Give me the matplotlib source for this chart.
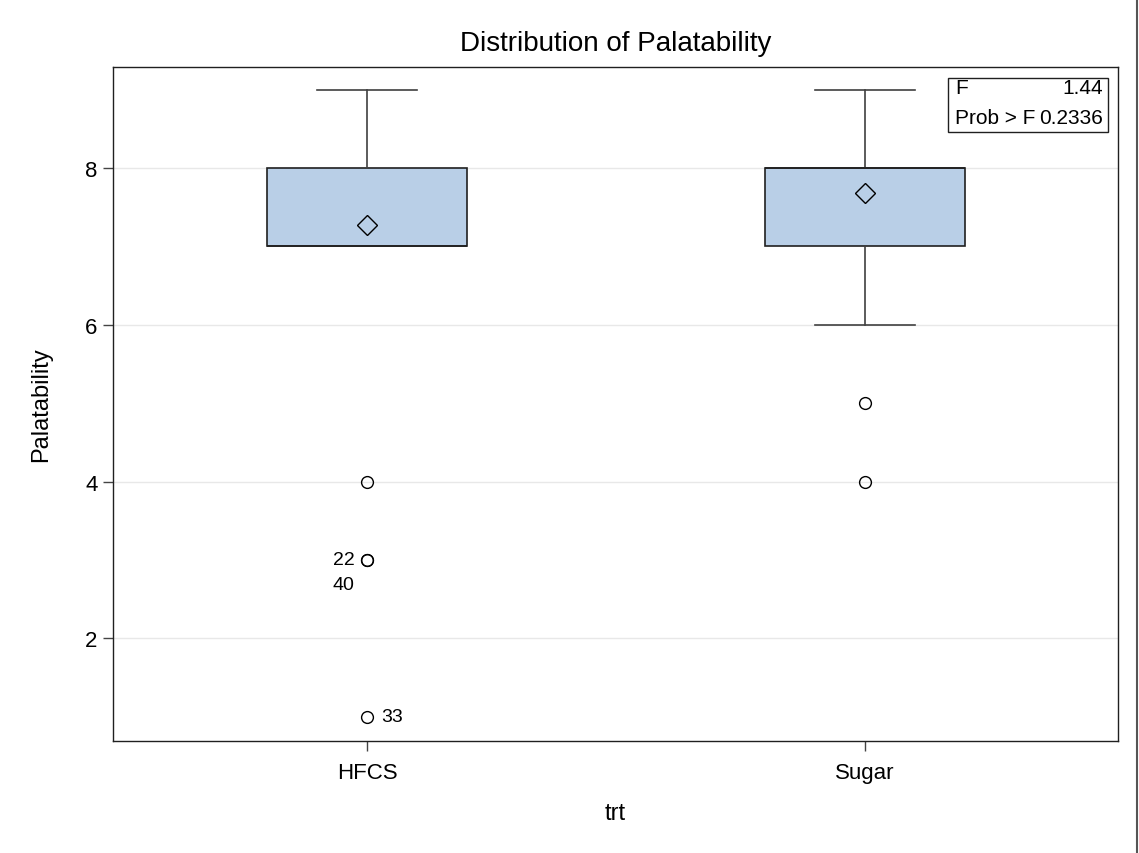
import matplotlib.pyplot as plt
from matplotlib.lines import Line2D
from matplotlib.patches import Rectangle

plt.rcParams['font.family'] = ['Liberation Sans', 'DejaVu Sans']

groups = ["HFCS", "Sugar"]
q1 = [7, 7]
medians = [7, 8]
q3 = [8, 8]
whisker_lo = [7, 6]
whisker_hi = [9, 9]
means = [7.28, 7.68]
outliers = [[4, 3, 3, 1], [5, 4]]
# labelled outliers: (group, value, ids, side)
outlier_ids = [(0, 3, ["22", "40"], "left"), (0, 1, ["33"], "right")]
f_value = 1.44
p_value = 0.2336

fig = plt.figure(figsize=(11.39, 8.54), dpi=100)
ax = fig.add_axes([0.0992, 0.1311, 0.8824, 0.7893])

stats = []
for i, g in enumerate(groups):
    stats.append(dict(label=g, q1=q1[i], med=medians[i], q3=q3[i],
                      whislo=whisker_lo[i], whishi=whisker_hi[i],
                      mean=means[i], fliers=outliers[i]))

ax.bxp(stats, positions=[0, 1], widths=0.4, patch_artist=True,
       showmeans=True, showfliers=True,
       boxprops=dict(facecolor="#b9cfe7", edgecolor="#202020", linewidth=1.2),
       medianprops=dict(color="#202020", linewidth=1.2),
       whiskerprops=dict(color="#404040", linewidth=1.2),
       capprops=dict(color="#404040", linewidth=1.2),
       capwidths=0.2,
       meanprops=dict(marker="D", markerfacecolor="none", markeredgecolor="black",
                      markersize=10, markeredgewidth=1.0),
       flierprops=dict(marker="o", markerfacecolor="none", markeredgecolor="black",
                       markersize=8.5, markeredgewidth=1.0),
       zorder=3)

for g, v, ids, side in outlier_ids:
    for k, txt in enumerate(ids):
        if side == "left":
            ax.annotate(txt, (g, v), xytext=(-9, -18 * k), textcoords="offset points",
                        ha="right", va="center", fontsize=14)
        else:
            ax.annotate(txt, (g, v), xytext=(10, -18 * k), textcoords="offset points",
                        ha="left", va="center", fontsize=14)

ax.set_xlim(-0.51, 1.508)
ax.set_ylim(0.69, 9.29)
ax.set_yticks([2, 4, 6, 8])
ax.set_xticks([0, 1])
ax.set_xticklabels(groups)
ax.yaxis.grid(True, color="#e8e8e8", linewidth=1)
ax.set_axisbelow(True)
ax.tick_params(labelsize=16, length=7, width=1, color="#444444", pad=8)
ax.tick_params(axis="y", pad=4)
for s in ax.spines.values():
    s.set_linewidth(1.0)
    s.set_color("#202020")

ax.set_title("Distribution of Palatability", fontsize=20, pad=12)
ax.set_xlabel("trt", fontsize=17, labelpad=14)
ax.set_ylabel("Palatability", fontsize=17, labelpad=24)

# F statistic inset
ax.add_patch(Rectangle((0.831, 0.903), 0.159, 0.081, transform=ax.transAxes,
                       facecolor="white", edgecolor="#202020", linewidth=1.0, zorder=5))
ax.text(0.838, 0.970, "F", transform=ax.transAxes, ha="left", va="center",
        fontsize=15, zorder=6)
ax.text(0.985, 0.970, "%.2f" % f_value, transform=ax.transAxes, ha="right",
        va="center", fontsize=15, zorder=6)
ax.text(0.838, 0.925, "Prob > F", transform=ax.transAxes, ha="left", va="center",
        fontsize=15, zorder=6)
ax.text(0.985, 0.925, "%.4f" % p_value, transform=ax.transAxes, ha="right",
        va="center", fontsize=15, zorder=6)

# right border of the graph area
fig.add_artist(Line2D([0.9982, 0.9982], [0.0, 1.0], color="#555555", linewidth=1.5,
                      transform=fig.transFigure))

fig.savefig("out.png", dpi=100, facecolor="white")
